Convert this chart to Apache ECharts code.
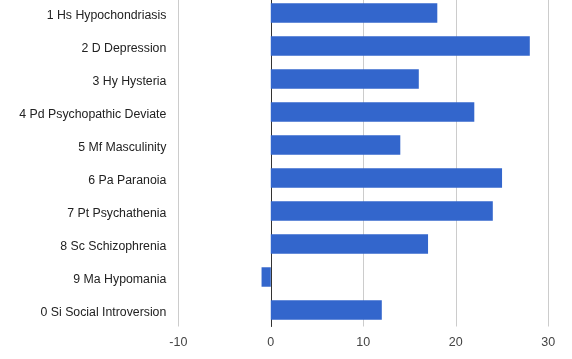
<!DOCTYPE html>
<html><head><meta charset="utf-8">
<script src="https://cdn.jsdelivr.net/npm/echarts@6/dist/echarts.min.js"></script>
<style>html,body{margin:0;padding:0;background:#fff;overflow:hidden}#c{position:relative;top:-4px;width:572px;height:363px}</style>
</head><body><div id="c"></div>
<script>
var categories = ["1 Hs Hypochondriasis","2 D Depression","3 Hy Hysteria","4 Pd Psychopathic Deviate","5 Mf Masculinity","6 Pa Paranoia","7 Pt Psychathenia","8 Sc Schizophrenia","9 Ma Hypomania","0 Si Social Introversion"];
var values = [18, 28, 16, 22, 14, 25, 24, 17, -1, 12];
var xTicks = [-10, 0, 10, 20, 30];

var chart = echarts.init(document.getElementById('c'), null, {renderer:'canvas'});
chart.setOption({
  animation: false,
  grid: {left: 178.3, right: 572 - 548.3, top: 0.5, bottom: 32.5, containLabel: false},
  xAxis: {
    type: 'value', min: xTicks[0], max: xTicks[xTicks.length-1], interval: 10,
    axisLine: {show: false}, axisTick: {show: false},
    splitLine: {lineStyle: {color: '#cccccc', width: 1}},
    axisLabel: {color: '#444444', fontFamily: 'Liberation Sans, Arial', fontSize: 12.5, margin: 10}
  },
  yAxis: {
    type: 'category', data: categories, inverse: true,
    axisLine: {show: true, onZero: true, lineStyle: {color: '#333333', width: 1}},
    axisTick: {show: false},
    splitLine: {show: false},
    axisLabel: {
      color: '#222222', fontFamily: 'Liberation Sans, Arial', fontSize: 12.3, margin: 12,
      formatter: function (v) { return '{t|' + v + '}'; },
      rich: {t: {color: '#222222', fontFamily: 'Liberation Sans, Arial', fontSize: 12.3, padding: [6, 0, 0, 0]}}
    }
  },
  series: [{
    type: 'bar', data: values, barCategoryGap: '41%',
    itemStyle: {color: '#3366cc'}
  }]
});
</script></body></html>
